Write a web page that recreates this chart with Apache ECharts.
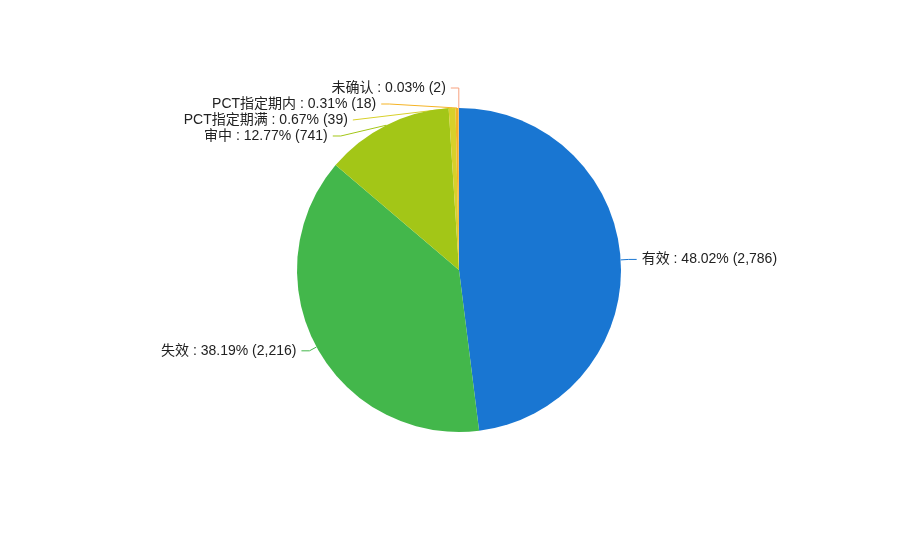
<!DOCTYPE html>
<html><head><meta charset="utf-8">
<script src="https://cdn.jsdelivr.net/npm/echarts@6/dist/echarts.min.js"></script>
<style>html,body{margin:0;padding:0;background:#fff}#c{width:918px;height:540px}</style>
</head><body><div id="c"></div>
<script>
const categories = ['有效', '失效', '审中', 'PCT指定期满', 'PCT指定期内', '未确认'];
const values = [2786, 2216, 741, 39, 18, 2];
const colors = ['#1976d2', '#43b74b', '#a3c617', '#d8d02a', '#f5b324', '#f7a17f'];
const total = values.reduce((a, b) => a + b, 0);
const chart = echarts.init(document.getElementById('c'));
chart.setOption({
  animation: false,
  color: colors,
  series: [{
    type: 'pie',
    radius: '60%',
    center: ['50%', '50%'],
    startAngle: 90,
    clockwise: true,
    data: categories.map((n, i) => {
      const item = { name: n, value: values[i] };
      if (values[i] / total < 0.2) item.labelLine = { length: 20 };
      return item;
    }),
    label: {
      color: '#222',
      fontSize: 14,
      lineHeight: 12,
      fontFamily: '"Liberation Sans", "Noto Sans CJK SC", sans-serif',
      formatter: p => p.name + ' : ' + (p.value / total * 100).toFixed(2) + '% (' + p.value.toLocaleString('en-US') + ')'
    },
    labelLine: { length: 8, length2: 8 },
    itemStyle: { borderColor: '#fff', borderWidth: 0 }
  }]
});
</script></body></html>
